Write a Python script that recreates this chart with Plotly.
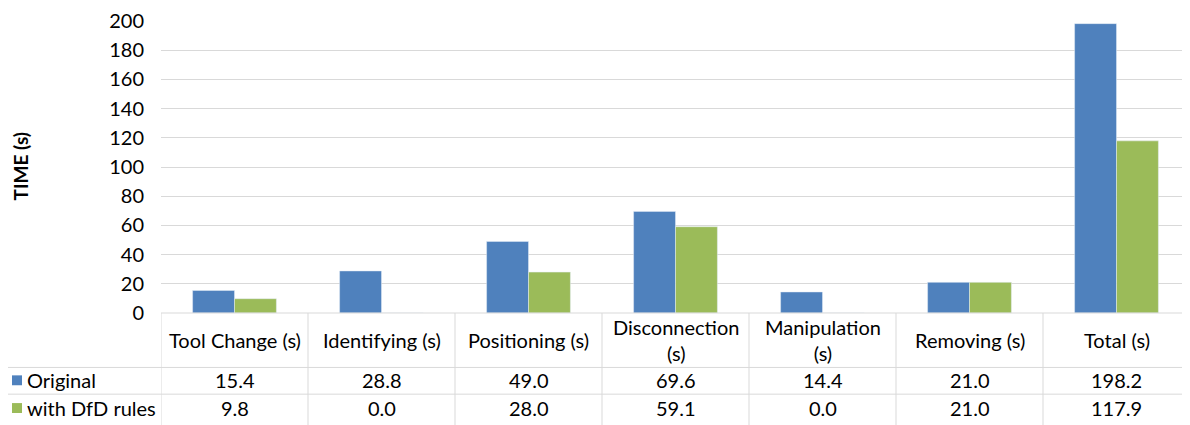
import plotly.graph_objects as go

categories = ["Tool Change (s)", "Identifying (s)", "Positioning (s)", "Disconnection (s)",
              "Manipulation (s)", "Removing (s)", "Total (s)"]
header_labels = ["Tool Change (s)", "Identifying (s)", "Positioning (s)", "Disconnection<br>(s)",
                 "Manipulation<br>(s)", "Removing (s)", "Total (s)"]
original = [15.4, 28.8, 49.0, 69.6, 14.4, 21.0, 198.2]
dfd = [9.8, 0.0, 28.0, 59.1, 0.0, 21.0, 117.9]
series_names = ["Original", "with DfD rules"]
y_ticks = [0, 20, 40, 60, 80, 100, 120, 140, 160, 180, 200]

BLUE = "#4F81BD"
GREEN = "#9BBB59"
GRID = "#D9D9D9"
FONT = "Lato"
FS = 20

OFF = 8  # page body margin
W, H = 1190 - OFF, 425 - OFF
L, T = 161 - OFF, 18 - OFF
B = H - (313 - OFF)
PH = H - T - B
PW = W - L

def py(p):  # reference pixel y -> paper y
    return (H - B - (p - OFF)) / PH

def px(p):  # reference pixel x -> paper x
    return ((p - OFF) - L) / PW

fig = go.Figure()
fig.add_trace(go.Bar(x=categories, y=original, name=series_names[0], marker_color=BLUE))
fig.add_trace(go.Bar(x=categories, y=dfd, name=series_names[1], marker_color=GREEN))

shapes = []
annotations = []
line = dict(color=GRID, width=1)
shapes.append(dict(type="line", xref="paper", yref="paper", x0=0, x1=1, y0=py(313), y1=py(313), line=line))
for yy in (368, 395):
    shapes.append(dict(type="line", xref="paper", yref="paper", x0=px(0), x1=1, y0=py(yy), y1=py(yy), line=line))
for i in range(len(categories)):
    shapes.append(dict(type="line", xref="x", yref="paper", x0=i - 0.5, x1=i - 0.5,
                       y0=py(313), y1=py(430), line=line))

txt = dict(family=FONT, size=FS, color="#000")
row_y = [py(340), py(381), py(409)]
for i, cat in enumerate(categories):
    for r, text in enumerate((header_labels[i], f"{original[i]:.1f}", f"{dfd[i]:.1f}")):
        annotations.append(dict(x=cat, xref="x", y=row_y[r], yref="paper", text=text,
                                xanchor="center", yanchor="middle", showarrow=False, font=txt))

for name, col, yy in ((series_names[0], BLUE, 381), (series_names[1], GREEN, 409)):
    shapes.append(dict(type="rect", xref="paper", yref="paper", x0=px(12), x1=px(22),
                       y0=py(yy + 5), y1=py(yy - 5), fillcolor=col, line=dict(width=0)))
    annotations.append(dict(x=px(25), xref="paper", y=py(yy), yref="paper", text=name,
                            xanchor="left", yanchor="middle", showarrow=False, font=txt))

annotations.append(dict(x=px(21), xref="paper", y=py(165), yref="paper", text="<b>TIME (s)</b>",
                        textangle=-90, xanchor="center", yanchor="middle", showarrow=False,
                        borderpad=0, font=dict(family=FONT, size=19, color="#000")))

fig.update_layout(
    width=W, height=H,
    margin=dict(l=L, r=0, t=T, b=B),
    barmode="group", bargap=0.43, bargroupgap=0,
    plot_bgcolor="white", paper_bgcolor="white",
    showlegend=False,
    shapes=shapes, annotations=annotations,
    xaxis=dict(range=[-0.5, 6.5], showticklabels=False, showgrid=False, zeroline=False,
               showline=False, fixedrange=True),
    yaxis=dict(range=[0, 200], tickvals=y_ticks, showgrid=True, gridcolor=GRID, gridwidth=1,
               zeroline=False, showline=False, ticks="", ticklabeloverflow="allow",
               tickfont=dict(family=FONT, size=FS, color="#000"), ticklabelstandoff=16),
    font=dict(family=FONT),
)

fig.write_html("out.html")
